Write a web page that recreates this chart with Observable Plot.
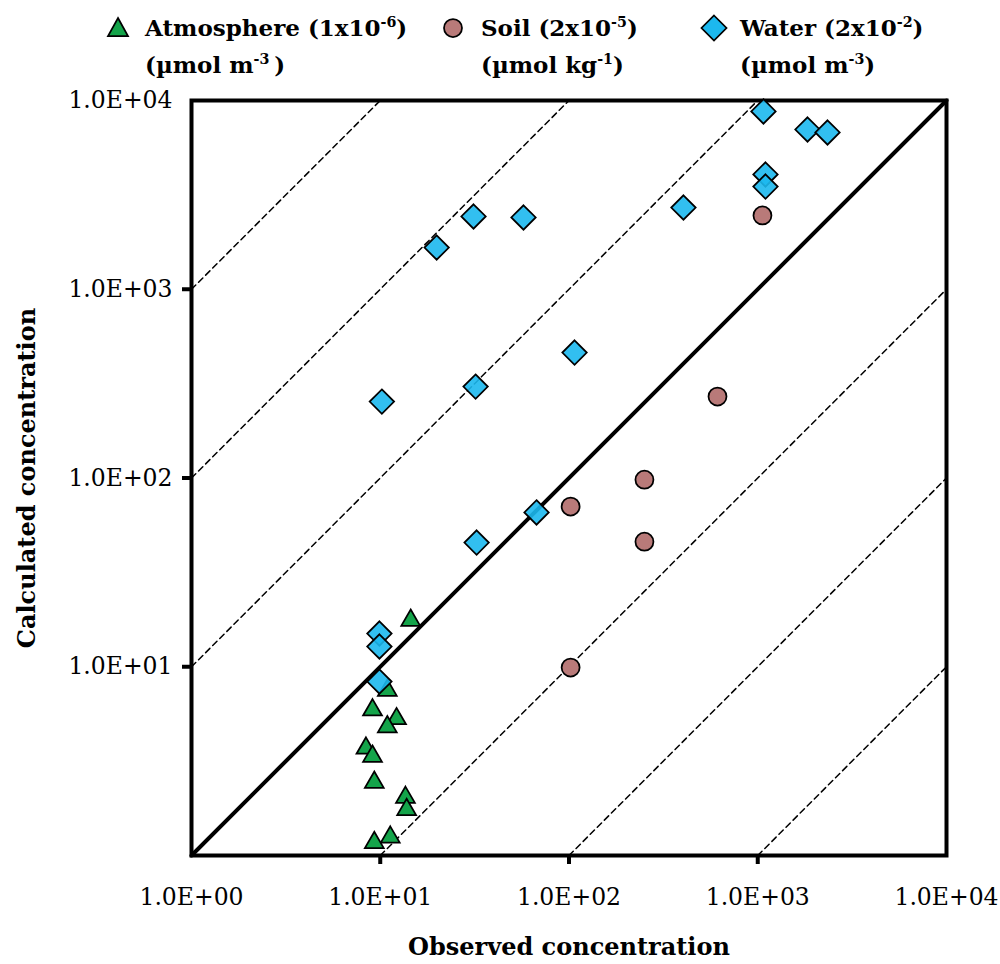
<!DOCTYPE html>
<html><head><meta charset="utf-8">
<script src="https://cdn.jsdelivr.net/npm/d3@7"></script>
<script src="https://cdn.jsdelivr.net/npm/@observablehq/plot@0.6"></script>
<style>
body{margin:0;background:#fff;}
#wrap{position:relative;width:1000px;height:964px;font-family:"DejaVu Serif",serif;color:#000;}
.leg{position:absolute;top:11px;font-weight:bold;font-size:23px;line-height:34px;white-space:nowrap;}
.leg sup{font-size:0.62em;vertical-align:0;position:relative;top:-0.6em;}
.mk{position:absolute;overflow:visible;}
#chart{position:absolute;left:0;top:0;}
</style></head><body>
<div id="wrap">
  <div id="chart"></div>
  <svg class="mk" style="left:107px;top:17px" width="22" height="22"><polygon points="11,1 21,19 1,19" fill="#14A44A" stroke="#000" stroke-width="1.75"/></svg>
  <div class="leg" style="left:145px">Atmosphere (1x10<sup>-6</sup>)<br>(µmol m<sup>-3 </sup>)</div>
  <svg class="mk" style="left:442px;top:17px" width="22" height="22"><circle cx="11" cy="11" r="9" fill="#B97A79" stroke="#000" stroke-width="1.75"/></svg>
  <div class="leg" style="left:481px">Soil (2x10<sup>-5</sup>)<br>(µmol kg<sup>-1</sup>)</div>
  <svg class="mk" style="left:700px;top:14px" width="28" height="28"><polygon points="14,1.5 26.5,14 14,26.5 1.5,14" fill="#1CB8EE" stroke="#000" stroke-width="1.75"/></svg>
  <div class="leg" style="left:740px">Water (2x10<sup>-2</sup>)<br>(µmol m<sup>-3</sup>)</div>
</div>
<script>
// ---- data ----
const atmObs  = [14.5, 10.9, 9.1, 12.2, 10.9, 8.4, 9.1, 9.3, 13.6, 13.8, 11.3, 9.3];
const atmCalc = [17.6, 7.5, 5.9, 5.3, 4.8, 3.7, 3.35, 2.44, 2.03, 1.75, 1.25, 1.17];
const soilObs  = [1059, 612, 251, 102, 251, 102];
const soilCalc = [2460, 270, 98, 70.6, 46, 9.9];
const waterObs  = [1072, 1835, 2342, 1099, 1099, 404, 31.2, 57.4, 19.9, 107, 32, 10.2, 67.3, 32.4, 9.9, 9.9, 9.9];
const waterCalc = [8750, 7020, 6770, 4055, 3500, 2710, 2430, 2400, 1664, 462, 305, 254, 65.7, 45.5, 15.0, 12.8, 8.35];
const xTickLabels = [1, 10, 100, 1000, 10000];
const yTickLabels = [10, 100, 1000, 10000];
const innerTicks = [10, 100, 1000];
const guideFactors = [1000, 100, 10, 0.1, 0.01, 0.001];
const domainLo = 1, domainHi = 10000;

const toRows = (xs, ys) => xs.map((x, i) => ({x, y: ys[i]}));
const atm = toRows(atmObs, atmCalc);
const soil = toRows(soilObs, soilCalc);
const water = toRows(waterObs, waterCalc);

const guides = guideFactors.flatMap(k => {
  const x0 = Math.max(domainLo, domainLo / k), x1 = Math.min(domainHi, domainHi / k);
  return [{x: x0, y: x0 * k, k}, {x: x1, y: x1 * k, k}];
});
const diag = [{x: domainLo, y: domainLo}, {x: domainHi, y: domainHi}];
const fmt = d => "1.0E+" + String(Math.round(Math.log10(d))).padStart(2, "0");

const chart = Plot.plot({
  width: 1000, height: 964,
  marginLeft: 191, marginRight: 54, marginTop: 100, marginBottom: 109,
  style: {fontFamily: "'DejaVu Serif', serif", fontSize: "23px", color: "#000", background: "transparent"},
  x: {type: "log", domain: [domainLo, domainHi]},
  y: {type: "log", domain: [domainLo, domainHi]},
  marks: [
    Plot.line(guides, {x: "x", y: "y", z: "k", stroke: "#000", strokeWidth: 1.5, strokeDasharray: "6,4"}),
    Plot.line(diag, {x: "x", y: "y", stroke: "#000", strokeWidth: 4}),
    Plot.frame({stroke: "#000", strokeWidth: 4}),
    Plot.axisX(innerTicks, {tickSize: 9, tickFormat: () => "", strokeWidth: 4, label: null}),
    Plot.axisX(xTickLabels, {tickSize: 0, tickPadding: 33, tickFormat: fmt, fontSize: 23.5, label: null}),
    Plot.axisY(innerTicks, {tickSize: 9, tickFormat: () => "", strokeWidth: 4, label: null}),
    Plot.axisY(yTickLabels, {tickSize: 0, tickPadding: 19, tickFormat: fmt, fontSize: 23.5, label: null}),
    Plot.text(["Calculated concentration"], {text: d => d, frameAnchor: "left", textAnchor: "middle", lineAnchor: "middle", dx: -164, rotate: -90, fontWeight: "bold", fontSize: 24}),
    Plot.text(["Observed concentration"], {text: d => d, frameAnchor: "bottom", textAnchor: "middle", lineAnchor: "middle", dy: 92, fontWeight: "bold", fontSize: 24}),
    Plot.dot(atm, {x: "x", y: "y", symbol: "triangle", r: 7, fill: "#14A44A", stroke: "#000", strokeWidth: 1.75}),
    Plot.dot(soil, {x: "x", y: "y", symbol: "circle", r: 9, fill: "#B97A79", stroke: "#000", strokeWidth: 1.75}),
    Plot.dot(water, {x: "x", y: "y", symbol: "diamond2", r: 11, fill: "#1CB8EE", fillOpacity: 0.9, stroke: "#000", strokeWidth: 1.75})
  ]
});
document.getElementById("chart").appendChild(chart);
</script>
</body></html>
